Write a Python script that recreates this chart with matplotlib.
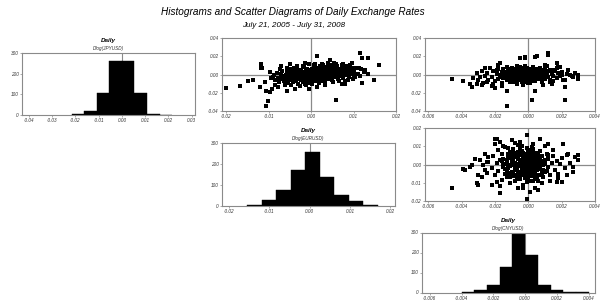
import numpy as np
import matplotlib
matplotlib.use("Agg")
import matplotlib.pyplot as plt

plt.rcParams["font.family"] = ["Liberation Sans", "DejaVu Sans"]

# histogram bin edges and counts (Dlog values)
jpy_edges = [-0.0216, -0.0162, -0.0108, -0.0054, 0.0, 0.0054, 0.0108, 0.0162, 0.0216]
jpy_counts = [4, 18, 108, 262, 262, 105, 6, 2]

eur_edges = [-0.0155, -0.0119, -0.0083, -0.0047, -0.0011, 0.0025, 0.0061, 0.0097, 0.0133, 0.0169]
eur_counts = [3, 30, 77, 170, 258, 140, 52, 22, 3]

cny_edges = [-0.004, -0.0032, -0.0024, -0.0016, -0.0008, 0.0, 0.0008, 0.0016, 0.0024, 0.0032, 0.004]
cny_counts = [2, 14, 40, 128, 300, 190, 40, 14, 5, 1]

# scatter points, units of 1e-4 (x, y)
# Dlog(EURUSD) vs Dlog(JPYUSD)
eur_jpy = [
    (-201, -146), (-168, -130), (-148, -70), (-136, -64), (-120, -138), (-117, 112), (-115, 75),
    (-106, -180), (-101, -288), (-106, -340), (-97, -190), (-71, 93), (-57, -176), (-14, 123),
    (13, 206), (58, -280), (72, 105), (116, 236), (121, 180), (159, 105), (147, -64), (120, -90),
    (135, 10), (96, 67), (80, -100), (104, -26), (-117, 67), (-50, 112), (45, 160), (96, 123),
    (112, 67), (127, 48), (135, 179), (-93, -157), (-109, -83), (-77, -139), (-38, -157),
    (-6, -157), (13, -139), (33, -120), (72, -101),
    (-95, -40), (-88, -10), (-84, -62), (-80, 20), (-78, -35), (-75, -85), (-72, 5), (-70, -50),
    (-68, 40), (-65, -20), (-63, -70), (-60, -5), (-58, 25), (-57, -45), (-55, -95), (-53, 10),
    (-50, -30), (-49, 55), (-47, -60), (-45, -15), (-44, 20), (-42, -80), (-40, -40), (-39, 35),
    (-37, 0), (-36, -55), (-34, 70), (-33, -25), (-31, 15), (-30, -100), (-29, -45), (-27, 30),
    (-26, -10), (-25, -65), (-23, 50), (-22, 5), (-21, -30), (-19, -80), (-18, 25), (-17, -50),
    (-16, 80), (-14, -15), (-13, 40), (-12, -35), (-11, -5), (-10, 60), (-9, -60), (-8, 15),
    (-7, -25), (-6, 35), (-5, -90), (-4, 0), (-3, 50), (-2, -40), (-1, 20), (0, -15), (1, 65),
    (2, -55), (3, 10), (4, -30), (5, 40), (6, -5), (7, 85), (8, -70), (9, 25), (10, -20),
    (11, 50), (12, 0), (13, -45), (14, 30), (15, 70), (16, -10), (17, 15), (18, -60), (19, 45),
    (20, 5), (21, -25), (22, 95), (23, 20), (24, -40), (25, 55), (26, -5), (27, 35), (28, -75),
    (29, 10), (30, 75), (31, -20), (32, 40), (33, -50), (34, 20), (35, 60), (36, 0), (37, -30),
    (38, 85), (39, 30), (40, -10), (41, 50), (42, -45), (43, 15), (44, 105), (45, 35), (46, -20),
    (47, 65), (48, 5), (49, -60), (50, 45), (52, 20), (53, -30), (54, 80), (55, 0), (57, 55),
    (58, -15), (60, 30), (62, 95), (63, -45), (65, 15), (67, 60), (68, -20), (70, 40), (72, 5),
    (74, 75), (76, -35), (78, 25), (80, 55), (82, -10), (84, 90), (86, 15), (88, 45), (90, -25),
    (93, 60), (96, 20), (99, -50), (102, 40), (106, 75), (110, 10), (115, -20), (118, 55),
    (124, 30), (-20, 0), (-15, 10), (-10, -10), (-5, 5), (0, 0), (5, 15), (10, 5), (15, 25),
    (20, 15), (25, 30), (30, 20), (35, 35), (40, 25), (-25, -15), (-30, -5), (-35, -20),
    (-40, -10), (45, 15), (50, 30), (55, 25), (60, 10), (-45, -35), (-50, -15), (8, 35),
    (18, -30), (28, 45), (38, -5), (48, 60), (-8, -45), (-18, -20),
    (-60, -25), (-55, 5), (-52, -50), (-48, 30), (-43, -5), (-41, -25), (-38, 15), (-35, -45),
    (-32, 40), (-28, -20), (-24, 10), (-20, -40), (-16, 30), (-12, -15), (-9, 40), (-6, -20),
    (-3, 25), (0, -35), (2, 45), (4, 10), (6, -25), (9, 55), (11, -10), (13, 20), (16, -35),
    (19, 30), (21, 60), (23, -15), (26, 15), (29, -40), (31, 50), (33, 5), (36, 25), (39, -20),
    (41, 70), (43, 40), (46, 0), (49, 25), (51, -10), (53, 55), (56, 35), (59, -30), (61, 50),
    (64, 25), (66, -5), (69, 15), (71, 65), (73, -15), (77, 40), (81, 20), (-65, -45), (-70, -15),
    (-75, -35), (-82, -55), (-90, -25), (85, 35), (91, 10), (95, 45), (-18, -55), (-2, 5), (7, 30),
    (17, 45), (27, 0), (37, 50), (47, -35), (57, 10), (-28, 20), (-36, -70), (-46, 10), (14, -20),
    (-62, -110), (-48, -120), (-40, 75), (-26, -125), (-20, 95), (-11, -110), (-4, 110),
    (3, -100), (10, 120), (18, -95), (25, 115), (32, -90), (40, 130), (51, -80), (59, 110),
    (66, -70), (75, 120), (87, -60), (92, 100), (-84, -120), (-74, 60), (-56, 70), (-33, 95),
    (-15, -100), (6, 100), (29, 105), (53, 125), (79, -75), (100, -10), (-98, 30),
]

# Dlog(CNYUSD) vs Dlog(JPYUSD)
cny_jpy = [
    (-46, -45), (-39, -72), (-34, -139), (-31, -109), (-29, -27), (-26, 74), (-25, -83), (-19, 48),
    (-17, 123), (-13, -176), (-13, -344), (-5, 179), (-2, 179), (4, 197), (12, 235), (2, -280),
    (4, -176), (10, 104), (17, 123), (19, 85), (22, -64), (22, -139), (22, -280), (25, -8),
    (27, -27), (30, -45), (30, -8), (15, 48), (13, -83), (-2, 197), (5, 205), (12, 216),
    (-22, -30), (-21, 40), (-20, -70), (-19, 10), (-18, -45), (-18, 65), (-17, -10), (-16, 30),
    (-16, -95), (-15, 0), (-15, 55), (-14, -35), (-14, 20), (-13, -60), (-13, 85), (-12, -15),
    (-12, 45), (-11, -80), (-11, 5), (-10, 30), (-10, -40), (-10, 70), (-9, -20), (-9, 15),
    (-8, -65), (-8, 50), (-8, -5), (-7, 25), (-7, -100), (-7, 90), (-6, -30), (-6, 10), (-6, 60),
    (-5, -50), (-5, 0), (-5, 35), (-4, -85), (-4, -15), (-4, 75), (-4, 20), (-3, -40), (-3, 5),
    (-3, 50), (-3, -110), (-2, -20), (-2, 30), (-2, -60), (-2, 95), (-1, 0), (-1, -35), (-1, 45),
    (-1, 15), (0, -75), (0, 25), (0, -10), (0, 60), (1, -45), (1, 5), (1, 35), (1, -90), (2, -20),
    (2, 50), (2, 10), (2, -55), (3, 80), (3, -5), (3, -35), (3, 25), (4, -70), (4, 40), (4, 0),
    (5, -25), (5, 60), (5, 15), (6, -50), (6, 30), (6, -10), (7, 70), (7, -35), (7, 5), (8, -80),
    (8, 45), (9, -15), (9, 20), (10, -45), (10, 55), (11, 0), (12, -30), (12, 35), (13, -65),
    (14, 10), (15, -20), (16, 40), (17, -40), (18, 15), (20, -10), (-24, -55), (-25, 20),
    (-27, -90), (-28, 35), (-8, 20), (-6, -15), (-4, -5), (-3, 20), (-2, 0), (-1, -20), (0, 10),
    (1, -10), (2, 30), (3, -15), (-5, -25), (-7, -45), (-9, 40), (0, 40), (1, 20), (-3, -60),
    (2, -30), (4, 20), (-10, -5), (-12, 25), (5, -5), (6, 45), (-1, -50), (3, 55), (-6, 35),
    (-30, -60), (-31, 20), (-33, -40), (-35, -100), (-28, -120), (-26, -20), (-22, -130),
    (-20, -150), (-18, 100), (-23, 75), (-21, -100), (-16, -130), (13, 50), (15, -70), (17, 70),
    (19, -20), (20, 30), (21, -55), (23, 10), (24, 45), (26, -20), (28, 15), (14, -100), (11, 90),
    (9, -110), (18, 85),
    (-14, -20), (-13, 30), (-12, -45), (-11, 15), (-10, -70), (-9, -5), (-8, 35), (-7, -15),
    (-6, -60), (-5, 15), (-4, 40), (-3, -30), (-2, 10), (-1, -45), (0, -25), (1, 50), (2, -5),
    (3, 15), (4, -40), (5, 30), (6, -15), (7, 20), (8, -55), (-12, 60), (-10, 10), (-8, -30),
    (-6, 50), (-4, -45), (-2, -35), (0, -50), (2, 65), (4, -15), (6, 5), (-15, -40), (-13, 5),
    (-11, -30), (-9, 55), (-7, 0), (-5, -65), (-3, 35), (-1, 25), (1, -25), (3, -50), (5, 40),
    (7, -5), (9, 0), (10, 15), (11, -20), (-16, 15), (-17, -25), (-9, -85), (-5, 80), (-1, 70),
    (3, -75), (0, -90), (-7, 55), (-11, -55), (5, -45), (8, 25), (-2, -85),
]

# Dlog(CNYUSD) vs Dlog(EURUSD)
cny_eur = [
    (-20, 142), (-17, 124), (-10, 133), (-5, 124), (-1, 160), (3, 115), (7, 142), (12, 115),
    (21, 115), (-38, -31), (-31, -104), (-30, -113), (-26, -31), (-25, 15), (-17, -158),
    (-6, -131), (4, -131), (1, -149), (23, 51), (28, 42), (30, 24), (27, -40), (23, -58),
    (17, -95), (-46, -131), (-39, -22), (-1, -190), (6, -140), (30, 51), (-19, 142), (-24, 42),
    (-34, 0), (-29, 24),
    (-22, -20), (-21, 45), (-20, -60), (-19, 10), (-18, 80), (-18, -35), (-17, 25), (-16, -85),
    (-16, 55), (-15, -5), (-15, 30), (-14, -50), (-14, 95), (-13, 10), (-13, -70), (-12, 40),
    (-12, -20), (-11, 70), (-11, -100), (-10, 0), (-10, 55), (-10, -40), (-9, 20), (-9, -65),
    (-9, 85), (-8, -15), (-8, 45), (-8, -90), (-7, 5), (-7, 65), (-7, -30), (-6, 30), (-6, -55),
    (-6, 105), (-5, -10), (-5, 50), (-5, -80), (-4, 15), (-4, -40), (-4, 75), (-3, -20), (-3, 35),
    (-3, -110), (-3, 0), (-2, 60), (-2, -50), (-2, 20), (-2, -75), (-1, -5), (-1, 40), (-1, -30),
    (-1, 90), (0, 10), (0, -60), (0, 50), (0, -20), (1, 25), (1, -90), (1, 70), (1, -5), (2, -40),
    (2, 35), (2, -65), (2, 5), (3, 55), (3, -25), (3, 85), (4, -10), (4, 40), (4, -50), (5, 15),
    (5, -80), (5, 65), (6, -25), (6, 30), (7, -55), (7, 5), (7, 75), (8, -35), (8, 45), (9, -5),
    (9, -70), (10, 25), (10, -40), (11, 60), (12, -15), (12, 30), (13, -60), (14, 10), (15, 45),
    (16, -30), (17, 20), (18, -50), (19, 5), (20, 35), (-24, 15), (-25, -45), (-26, 60),
    (-27, -5), (-28, -70), (-8, 10), (-6, 0), (-4, -25), (-3, 15), (-2, -10), (-1, 5), (0, -35),
    (1, 10), (2, -15), (3, 20), (-5, 25), (-7, -10), (-9, -45), (0, 30), (1, -45), (-3, -55),
    (2, 55), (4, -30), (-10, 20), (-12, -5), (5, -5), (6, 50), (-1, -70), (3, -90), (-6, 70),
    (-11, 35), (-14, -25), (-4, 100), (0, 80), (3, -5), (-30, -60), (-32, 30), (-35, -15),
    (-20, 110), (-22, -110), (-17, -120), (-15, 100), (-8, 120), (-3, -130), (8, -100), (10, 100),
    (13, -90), (15, 80), (18, -75), (22, -20), (24, 60), (25, 10), (27, -15), (20, -95), (-19, -95),
    (-14, 5), (-13, -35), (-12, 55), (-11, -10), (-10, -60), (-9, 30), (-8, -25), (-7, 40),
    (-6, -40), (-5, 5), (-4, 55), (-3, -45), (-2, 40), (-1, -15), (0, -5), (1, 35), (2, -30),
    (3, 0), (4, 20), (5, -30), (6, 10), (7, -15), (8, 20), (9, -30), (10, 5), (-12, -45),
    (-10, 35), (-8, 60), (-6, -75), (-4, -60), (-2, -30), (0, 65), (2, 75), (4, -75), (6, -60),
    (-13, 25), (-11, -70), (-9, 0), (-7, -55), (-5, -40), (-3, 65), (-1, 20), (1, -25), (3, 40),
    (5, 45), (7, 35), (8, -55), (-15, -15), (-16, 20), (-9, 75), (-5, 90), (-1, -95), (2, 95),
    (6, -90), (-12, 90), (11, -35), (12, 50), (-7, -80), (0, -75), (4, 65),
]

jpy_ticks = [-0.04, -0.03, -0.02, -0.01, 0.0, 0.01, 0.02, 0.03]
eur_ticks = [-0.02, -0.01, 0.0, 0.01, 0.02]
cny_ticks = [-0.006, -0.004, -0.002, 0.0, 0.002, 0.004]
count_ticks = [0, 100, 200, 300]
jpy_sc_ticks = [-0.04, -0.02, 0.0, 0.02, 0.04]

GRAY = "#8a8a8a"
TXT = "#333333"

fig = plt.figure(figsize=(6.01, 3.0), dpi=100)


def style(ax):
    for s in ax.spines.values():
        s.set_color(GRAY)
        s.set_linewidth(0.8)
    ax.tick_params(length=1.5, width=0.5, color=GRAY, labelsize=3.3,
                   labelcolor=TXT, pad=1)
    for lab in ax.get_xticklabels() + ax.get_yticklabels():
        lab.set_style("italic")


def hist(rect, edges, counts, xlim, xticks, fmt, name):
    ax = fig.add_axes(rect)
    edges = np.array(edges)
    ax.axvline(0, color=GRAY, lw=0.8, zorder=0)
    ax.bar(edges[:-1], counts, width=np.diff(edges), align="edge",
           color="black", edgecolor="black", linewidth=0.3, zorder=2)
    ax.set_xlim(xlim)
    ax.set_ylim(0, 300)
    ax.set_xticks(xticks)
    ax.set_xticklabels([fmt.format(t) for t in xticks])
    ax.set_yticks(count_ticks)
    style(ax)
    ax.text(0.5, 1.16, "Daily", transform=ax.transAxes, ha="center",
            va="bottom", fontsize=4.5, fontweight="bold", style="italic")
    ax.text(0.5, 1.03, name, transform=ax.transAxes, ha="center",
            va="bottom", fontsize=3.3, style="italic", color=TXT)
    return ax


def scat(rect, pts, xlim, ylim, xticks, yticks, xfmt, yfmt):
    ax = fig.add_axes(rect)
    p = np.array(pts) * 1e-4
    ax.axhline(0, color=GRAY, lw=0.9, zorder=1)
    ax.axvline(0, color=GRAY, lw=0.9, zorder=1)
    ax.scatter(p[:, 0], p[:, 1], s=5, marker="s", color="black",
               linewidths=0, zorder=2)
    ax.set_xlim(xlim)
    ax.set_ylim(ylim)
    ax.set_xticks(xticks)
    ax.set_xticklabels([xfmt.format(t) for t in xticks])
    ax.set_yticks(yticks)
    ax.set_yticklabels([yfmt.format(t) for t in yticks])
    style(ax)
    return ax


hist([0.0366, 0.6167, 0.288, 0.2067], jpy_edges, jpy_counts,
     (-0.043, 0.0315), jpy_ticks, "{:.2f}", "Dlog(JPYUSD)")
scat([0.3694, 0.63, 0.2895, 0.2433], eur_jpy, (-0.021, 0.02), (-0.04, 0.04),
     eur_ticks, jpy_sc_ticks, "{:.2f}", "{:.2f}")
scat([0.7072, 0.63, 0.2828, 0.2433], cny_jpy, (-0.0062, 0.004), (-0.04, 0.04),
     cny_ticks, jpy_sc_ticks, "{:.3f}", "{:.2f}")
hist([0.3694, 0.3133, 0.2879, 0.21], eur_edges, eur_counts,
     (-0.0217, 0.0212), eur_ticks, "{:.2f}", "Dlog(EURUSD)")
scat([0.7072, 0.33, 0.2828, 0.2433], cny_eur, (-0.0062, 0.004), (-0.02, 0.02),
     cny_ticks, [-0.02, -0.01, 0.0, 0.01, 0.02], "{:.3f}", "{:.2f}")
hist([0.702, 0.025, 0.288, 0.2], cny_edges, cny_counts,
     (-0.0065, 0.0044), cny_ticks, "{:.3f}", "Dlog(CNYUSD)")

fig.text(0.488, 0.96, "Histograms and Scatter Diagrams of Daily Exchange Rates",
         ha="center", va="center", fontsize=7.2, style="italic")
fig.text(0.488, 0.915, "July 21, 2005 - July 31, 2008",
         ha="center", va="center", fontsize=5.8, style="italic")

fig.savefig("out.png", dpi=100)
